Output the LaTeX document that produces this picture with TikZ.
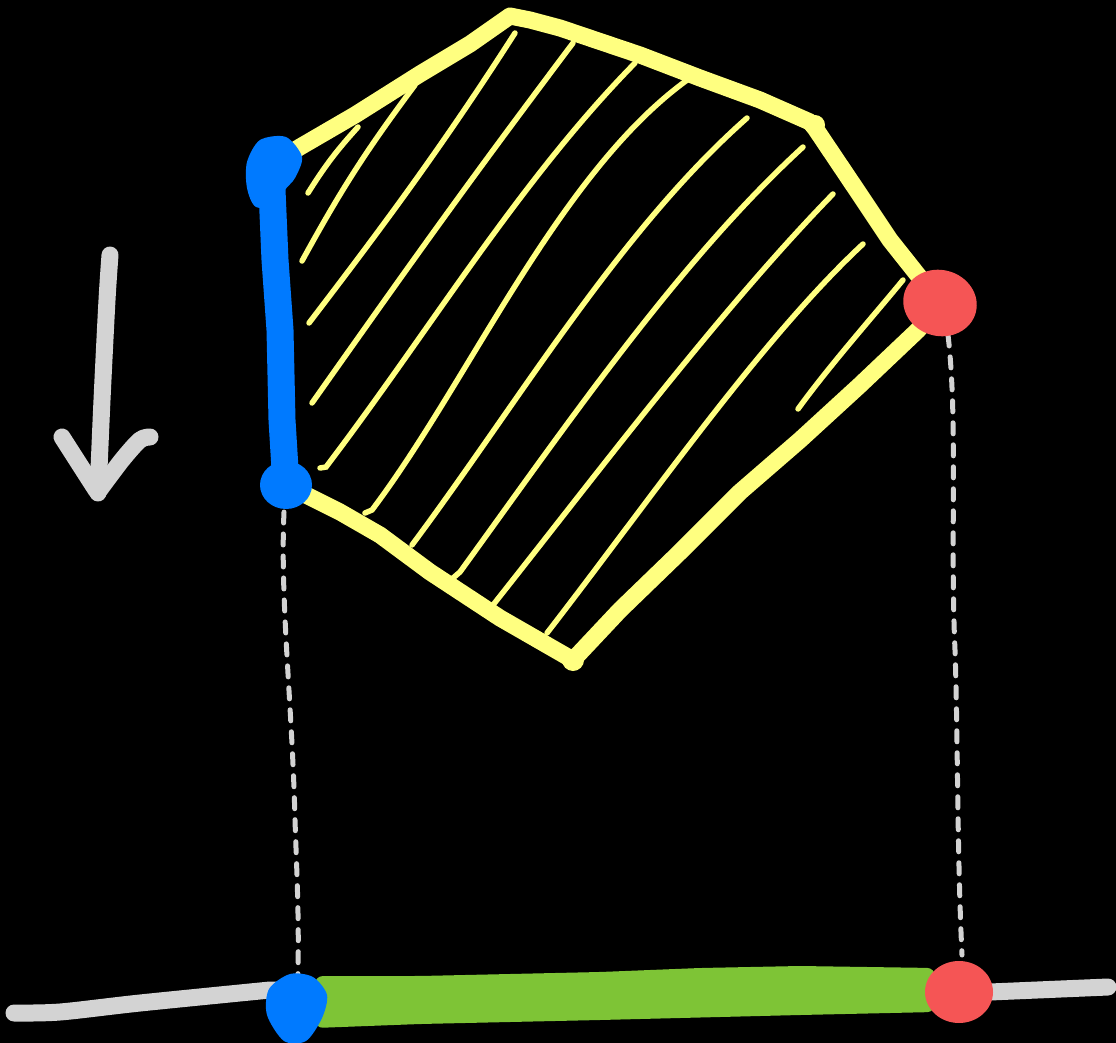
\documentclass[tikz,border=0pt]{standalone}
\usetikzlibrary{calc}
\definecolor{hyellow}{RGB}{255,255,128}
\definecolor{hblue}{RGB}{0,122,255}
\definecolor{hred}{RGB}{245,85,85}
\definecolor{hgray}{RGB}{211,211,211}
\definecolor{hgreen}{RGB}{126,196,54}
\begin{document}
\begin{tikzpicture}[x=1pt,y=-1pt,
  outline/.style={draw=hyellow,line width=17pt,line cap=round,line join=round},
  hatch/.style={draw=hyellow,line width=5.5pt,line cap=round},
  proj/.style={draw=hgray,line width=5pt,line cap=round,dash pattern=on 11pt off 11pt},
  edge/.style={draw=hblue,line width=27pt,line cap=round,line join=round},
  arrowline/.style={draw=hgray,line width=17pt,line cap=round,line join=round},
  axis/.style={draw=hgray,line width=17pt,line cap=round,line join=round}]
\fill[black] (0,0) rectangle (1116,1043);
\useasboundingbox (0,0) rectangle (1116,1043);
% key points
\coordinate (bTop) at (279,160);
\coordinate (bBot) at (286,485);
\coordinate (rTop) at (940,303);
\coordinate (bAxis) at (297,1007);
\coordinate (rAxis) at (959,992);
\coordinate (pTop) at (510,16);
\coordinate (pRight) at (810,122);
\coordinate (pLow) at (573,660);
% hatch lines
\draw[hatch] (308,193) to[bend left=5] (358,127);
\draw[hatch] (302,261) to[bend left=4] (415,85);
\draw[hatch] (309,323) .. controls (380,230) and (440,150) .. (515,33);
\draw[hatch] (312,403) .. controls (420,250) and (470,180) .. (573,43);
\draw[hatch] (320,468) -- (326,467) .. controls (430,330) and (520,180) .. (635,63);
\draw[hatch] (365,513) -- (372,510) .. controls (470,380) and (560,170) .. (690,78);
\draw[hatch] (412,545) .. controls (520,400) and (620,230) .. (747,118);
\draw[hatch] (453,578) -- (460,572) .. controls (570,420) and (680,260) .. (803,147);
\draw[hatch] (493,605) .. controls (600,470) and (720,310) .. (833,194);
\draw[hatch] (547,633) .. controls (650,500) and (760,340) .. (863,244);
\draw[hatch] (798,409) .. controls (830,365) and (870,320) .. (903,280);
% outline
\draw[outline] (bTop) -- (300,147) -- (355,115) -- (420,74) -- (470,44) -- (pTop) -- (530,20) -- (560,28) -- (640,55) -- (700,78) -- (760,100) -- (pRight) -- (815,128) -- (860,195) -- (890,240) -- (rTop);
\draw[outline] (rTop) -- (918,330) -- (860,385) -- (800,440) -- (740,492) -- (680,552) -- (620,610) -- (pLow) -- (500,618) -- (430,572) -- (380,535) -- (340,512) -- (bBot);
\fill[hyellow] (pRight) ++(5,3) circle (10);
\fill[hyellow] (pLow) circle (11);
% projection lines
\draw[proj] (284,512) .. controls (280,600) and (292,700) .. (295,820) .. controls (297,880) and (300,930) .. (bAxis);
\draw[proj] (948,335) .. controls (958,420) and (950,540) .. (955,650) .. controls (958,740) and (957,850) .. (962,955);
% blue edge
\draw[edge] (272,190) -- (275,260) -- (280,330) -- (282,420) -- (bBot);
\fill[hblue] plot[smooth cycle] coordinates {(247,162) (260,140) (286,137) (302,157) (295,178) (285,190) (279,205) (256,207) (247,188)};
\fill[hblue] (bBot) ellipse [x radius=26, y radius=24];
% red vertex
\fill[hred,rotate around={-15:(rTop)}] (rTop) ellipse [x radius=37, y radius=33];
% arrow
\draw[arrowline] plot[smooth] coordinates {(110,255) (107,300) (102,400) (98,493)};
\draw[arrowline] plot[smooth] coordinates {(62,437) (78,462) (96,490)};
\draw[arrowline] plot[smooth] coordinates {(98,492) (122,460) (140,440) (150,437)};
% axis
\draw[axis] plot[smooth] coordinates {(14,1013) (60,1012) (140,1003) (270,990)} -- (600,992) -- (990,992) -- (1108,987);
% green projection
\fill[hgreen,rounded corners=8pt] (315,976) -- (420,976) -- (600,972) -- (700,968) -- (800,966) -- (935,968) -- (935,1012) -- (800,1015) -- (600,1020) -- (420,1024) -- (315,1028) -- cycle;
\fill[hblue] plot[smooth cycle] coordinates {(290,974) (313,977) (327,995) (322,1018) (306,1041) (284,1041) (267,1015) (269,989)};
\fill[hred] (rAxis) ellipse [x radius=34, y radius=31];
\end{tikzpicture}
\end{document}
